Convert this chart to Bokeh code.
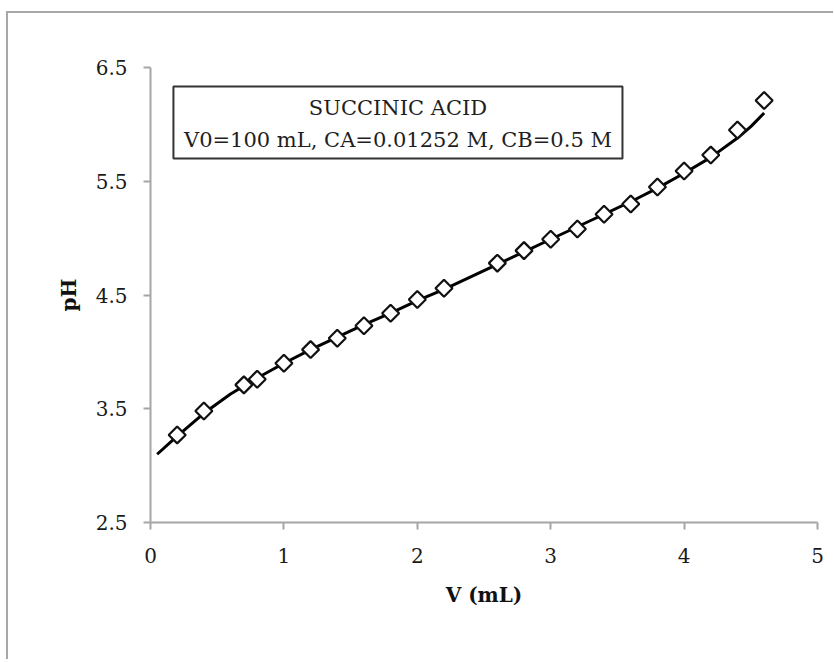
from bokeh.plotting import figure
from bokeh.models import FixedTicker, BoxAnnotation, Label, Range1d
from bokeh.embed import file_html
from bokeh.resources import INLINE
import math

# measured titration points (V in mL, pH)
volume_ml = [0.2, 0.4, 0.7, 0.8, 1.0, 1.2, 1.4, 1.6, 1.8, 2.0, 2.2,
             2.6, 2.8, 3.0, 3.2, 3.4, 3.6, 3.8, 4.0, 4.2, 4.4, 4.6]
ph_measured = [3.27, 3.48, 3.71, 3.76, 3.90, 4.02, 4.12, 4.23, 4.34, 4.46, 4.56,
               4.78, 4.89, 4.99, 5.08, 5.21, 5.30, 5.45, 5.59, 5.73, 5.95, 6.21]

# fitted curve
curve_v = [0.05, 0.2, 0.4, 0.6, 0.8, 1.0, 1.2, 1.4, 1.6, 1.8, 2.0, 2.2, 2.4,
           2.6, 2.8, 3.0, 3.2, 3.4, 3.6, 3.8, 4.0, 4.2, 4.4, 4.5, 4.6]
curve_ph = [3.10, 3.26, 3.46, 3.63, 3.77, 3.90, 4.02, 4.13, 4.24, 4.34, 4.45, 4.55, 4.66,
            4.77, 4.88, 4.99, 5.10, 5.21, 5.32, 5.44, 5.57, 5.71, 5.88, 5.98, 6.10]

x_ticks = [0, 1, 2, 3, 4, 5]
y_ticks = [2.5, 3.5, 4.5, 5.5, 6.5]

title_line1 = "SUCCINIC ACID"
title_line2 = "V0=100 mL, CA=0.01252 M, CB=0.5 M"

FONT = "DejaVu Serif"

p = figure(output_backend="svg", toolbar_location=None,
           frame_width=667, frame_height=455,
           x_range=Range1d(0, 5), y_range=Range1d(2.5, 6.5),
           min_border_left=142, min_border_right=16,
           min_border_top=54, min_border_bottom=137,
           background_fill_color="white", border_fill_color="white")
p.margin = (11, 0, 0, 6)
p.styles = {"border-left": "2px solid #a8a8a8", "border-top": "2px solid #a8a8a8"}
p.outline_line_color = None
p.grid.visible = False

for ax in (p.xaxis[0], p.yaxis[0]):
    ax.axis_line_color = "#a6a6a6"
    ax.axis_line_width = 2
    ax.major_tick_line_color = "#a6a6a6"
    ax.major_tick_line_width = 2
    ax.major_tick_in = 0
    ax.major_tick_out = 7
    ax.minor_tick_line_color = None
    ax.major_label_text_font = FONT
    ax.major_label_text_font_size = "20px"
    ax.major_label_text_color = "#1a1a1a"
    ax.axis_label_text_font = FONT
    ax.axis_label_text_font_size = "20px"
    ax.axis_label_text_font_style = "bold"
    ax.axis_label_text_color = "#111111"

p.xaxis.ticker = FixedTicker(ticks=x_ticks)
p.yaxis.ticker = FixedTicker(ticks=y_ticks)
p.xaxis.axis_label = "V (mL)"
p.yaxis.axis_label = "pH"
p.xaxis.major_label_standoff = 18
p.yaxis.major_label_standoff = 16
p.xaxis.axis_label_standoff = 17
p.yaxis.axis_label_standoff = 12

p.line(curve_v, curve_ph, line_color="black", line_width=3)
p.scatter(volume_ml, ph_measured, marker="square", size=12, angle=math.pi / 4,
          fill_color="white", line_color="#111111", line_width=2.2)

box = BoxAnnotation(left=0.172, right=3.538, top=6.333, bottom=5.70,
                    fill_color="white", fill_alpha=1.0,
                    line_color="#333333", line_alpha=1.0, line_width=2,
                    level="annotation")
p.add_layout(box)
for ty, txt in ((6.14, title_line1), (5.867, title_line2)):
    p.add_layout(Label(x=1.855, y=ty, text=txt, text_align="center",
                       text_baseline="middle", text_font=FONT, text_font_size="21px",
                       text_color="#1e1e1e", level="overlay"))

open("out.html", "w").write(file_html(p, INLINE))
